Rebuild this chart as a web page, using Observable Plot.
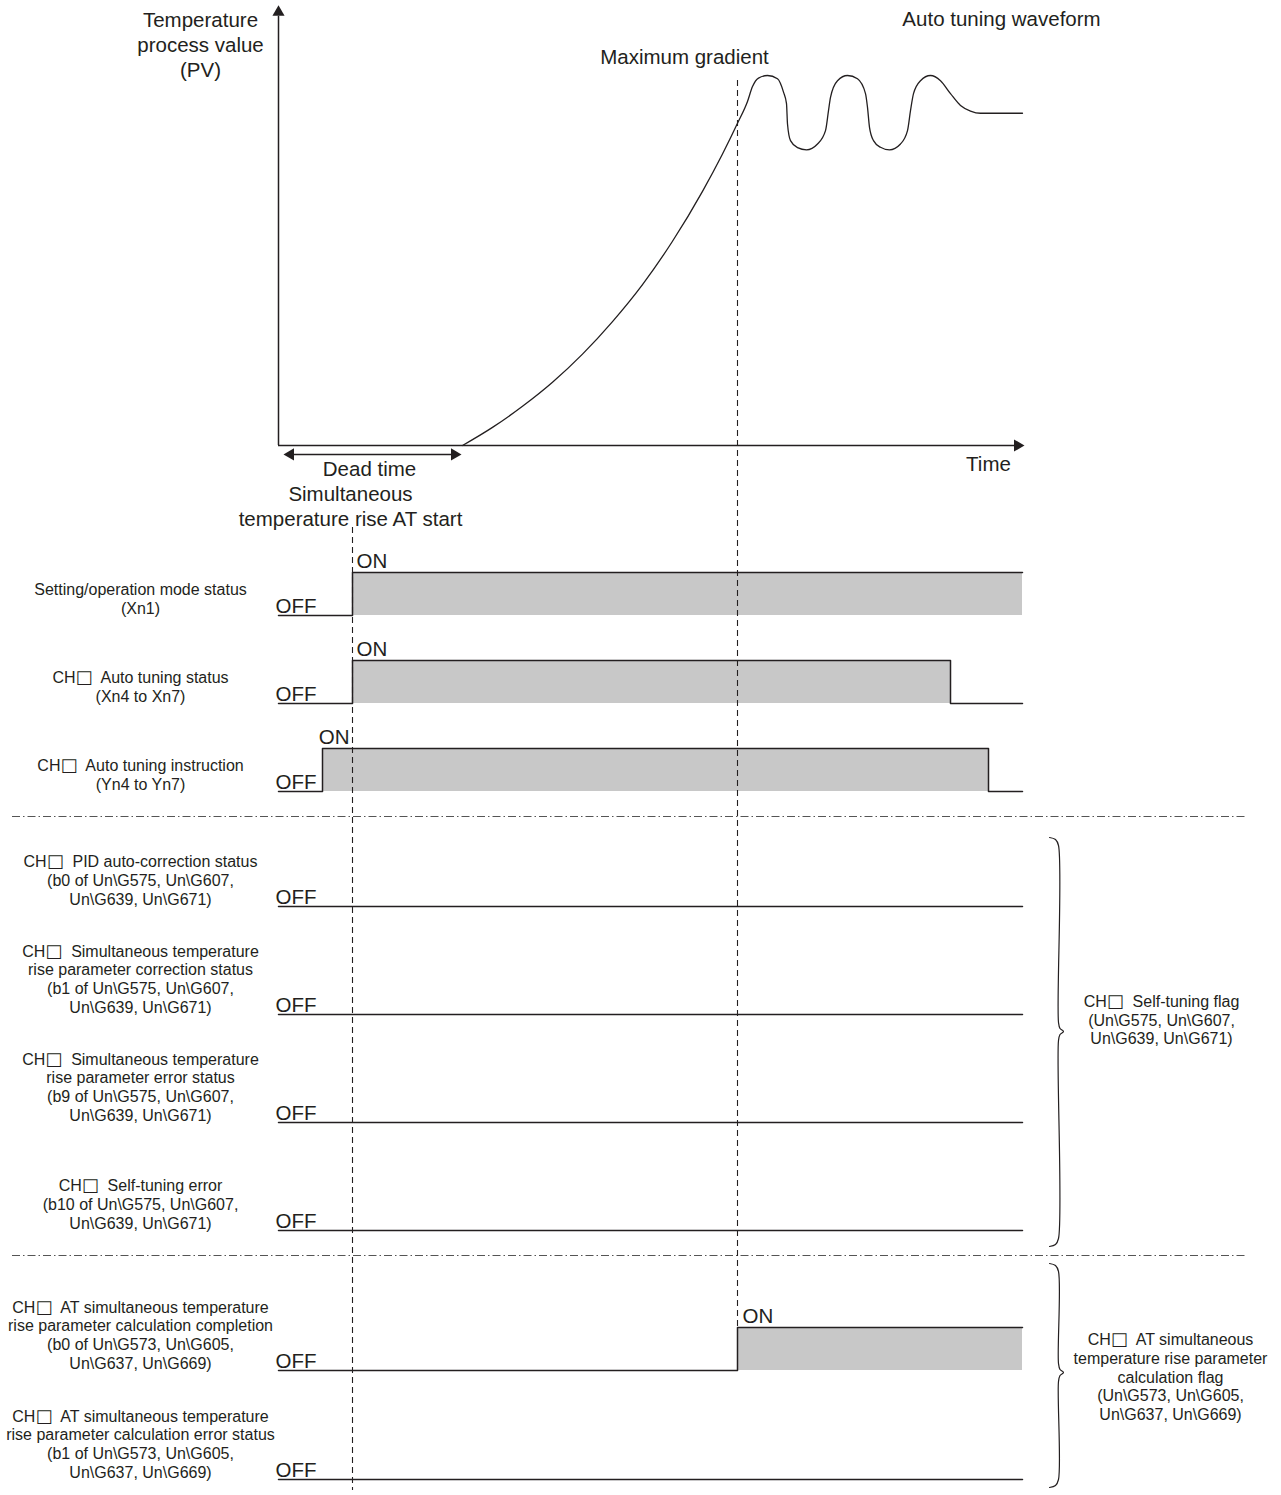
<!DOCTYPE html>
<html>
<head>
<meta charset="utf-8">
<script src="https://cdn.jsdelivr.net/npm/d3@7"></script>
<script src="https://cdn.jsdelivr.net/npm/@observablehq/plot@0.6"></script>
<style>
  body { margin: 0; background: #fff; }
  #wrap { position: relative; width: 1281px; height: 1495px; }
  #wrap svg { position: absolute; left: 0; top: 0; }
</style>
</head>
<body>
<div id="wrap"></div>
<script>
// ================= DATA =================
// time in arbitrary units (time axis origin = 0)
const timeEnd = 744;
const atInstructionOn = 44;
const atStart = 74;
const deadTimeEnd = 184;
const maxGradientTime = 459;

// Temperature process value (PV) waveform, 0 = start level, 100 = first overshoot peak
const pvTime  = [184, 214, 244, 274, 304, 334, 364, 394, 424, 444, 459, 469, 474, 480, 489,
                 499, 505, 508, 509, 512, 519, 528,
                 539, 547, 550, 552, 559, 569, 579, 587, 589, 591, 595, 602, 611,
                 622, 629, 632, 635, 642, 652, 662, 672, 682, 692, 702, 744];
const pvValue = [0, 4.9, 10.6, 17.1, 24.7, 33.5, 43.5, 55.2, 68.7, 78.8, 87.1, 93.0, 97.0, 99.3, 100,
                 99.1, 95.5, 92.4, 86.9, 82.4, 80.5, 79.9,
                 81.5, 85.1, 90.5, 94.1, 98.6, 100, 99.1, 95.1, 91.4, 86, 82.4, 80.6, 79.9,
                 81.5, 85.1, 90.5, 95.1, 98.6, 100, 98.6, 95.1, 91.9, 90.4, 89.8, 89.8];

// Timing signals
const signalLabels = [
  "Setting/operation mode status\n(Xn1)",
  "CH\u25A1\u00A0 Auto tuning status\n(Xn4 to Xn7)",
  "CH\u25A1\u00A0 Auto tuning instruction\n(Yn4 to Yn7)",
  "CH\u25A1\u00A0 PID auto-correction status\n(b0 of Un\\G575, Un\\G607,\nUn\\G639, Un\\G671)",
  "CH\u25A1\u00A0 Simultaneous temperature\nrise parameter correction status\n(b1 of Un\\G575, Un\\G607,\nUn\\G639, Un\\G671)",
  "CH\u25A1\u00A0 Simultaneous temperature\nrise parameter error status\n(b9 of Un\\G575, Un\\G607,\nUn\\G639, Un\\G671)",
  "CH\u25A1\u00A0 Self-tuning error\n(b10 of Un\\G575, Un\\G607,\nUn\\G639, Un\\G671)",
  "CH\u25A1\u00A0 AT simultaneous temperature\nrise parameter calculation completion\n(b0 of Un\\G573, Un\\G605,\nUn\\G637, Un\\G669)",
  "CH\u25A1\u00A0 AT simultaneous temperature\nrise parameter calculation error status\n(b1 of Un\\G573, Un\\G605,\nUn\\G637, Un\\G669)"
];
const signalOn  = [atStart, atStart, atInstructionOn, null, null, null, null, maxGradientTime, null];
const signalOff = [null, 672, 710, null, null, null, null, null, null];

const groupLabels = [
  "CH\u25A1\u00A0 Self-tuning flag\n(Un\\G575, Un\\G607,\nUn\\G639, Un\\G671)",
  "CH\u25A1\u00A0 AT simultaneous\ntemperature rise parameter\ncalculation flag\n(Un\\G573, Un\\G605,\nUn\\G637, Un\\G669)"
];

const titleText = "Auto tuning waveform";
const pvAxisLabel = "Temperature\nprocess value\n(PV)";
const timeAxisLabel = "Time";
const maxGradientLabel = "Maximum gradient";
const deadTimeLabel = "Dead time";
const atStartLabel = "Simultaneous\ntemperature rise AT start";

// ================= LAYOUT =================
const W = 1281, H = 1495;
const font = "'Liberation Sans', Arial, Helvetica, sans-serif";
const ink = "#231f20";
const rowBase = [615, 703, 791, 906, 1014, 1122, 1230, 1370, 1479];
const amp = 43;
const onLabelShift = [4, 4, -4, 0, 0, 0, 0, 5, 0];
const onLabelBefore = [false, false, true, false, false, false, false, false, false];
const separatorY = [816, 1255];
const braceTop = [837, 1263], braceBottom = [1246, 1487], braceTip = [1031, 1372];
const groupLabelX = [1161, 1170], groupLabelY = [1019, 1376];
const px = (p) => p - 278; // pixel column -> time units (1 unit = 1 px)

// ================= TOP: PV WAVEFORM =================
const pvData = pvTime.map((t, i) => ({t, pv: pvValue[i]}));
const big = 20.5;
const txt = {fill: ink, fontFamily: font, fontSize: big, stroke: null};
const head = {x: "t", y: "pv", symbol: "triangle", r: 4.5, fill: ink, stroke: null};

const waveChart = Plot.plot({
  width: W, height: H, margin: 0,
  style: {background: "transparent", fontFamily: font},
  x: {domain: [0, timeEnd], range: [278, 1022], axis: null},
  y: {domain: [0, 100], range: [445, 75], axis: null},
  marks: [
    // axes
    Plot.ruleX([0], {y1: 0, y2: 116, stroke: ink, strokeWidth: 1.5}),
    Plot.dot([{t: 0, pv: 119}], {...head, dy: 7}),
    Plot.ruleY([0], {x1: 0, x2: 736, stroke: ink, strokeWidth: 1.5}),
    Plot.dot([{t: 746, pv: 0}], {...head, rotate: 90, dx: -7}),
    // dead time arrow
    Plot.ruleY([-2.4], {x1: 8, x2: 180, stroke: ink, strokeWidth: 1.5}),
    Plot.dot([{t: 5, pv: -2.4}], {...head, rotate: -90, dx: 7}),
    Plot.dot([{t: deadTimeEnd - 1, pv: -2.4}], {...head, rotate: 90, dx: -7}),
    // PV curve
    Plot.line(pvData, {x: "t", y: "pv", curve: "monotone-x", stroke: ink, strokeWidth: 1.3}),
    // texts
    Plot.text([pvAxisLabel], {x: -78, y: 108.6, lineAnchor: "middle", lineHeight: 1.22, textAnchor: "middle", ...txt}),
    Plot.text([titleText], {x: 723, y: 115.1, lineAnchor: "middle", textAnchor: "middle", ...txt}),
    Plot.text([maxGradientLabel], {x: 406, y: 104.9, lineAnchor: "middle", textAnchor: "middle", ...txt}),
    Plot.text([timeAxisLabel], {x: 710, y: -5.1, lineAnchor: "middle", textAnchor: "middle", ...txt}),
    Plot.text([deadTimeLabel], {x: 91, y: -6.5, lineAnchor: "middle", textAnchor: "middle", ...txt}),
    Plot.text([atStartLabel], {x: atStart - 2, y: -16.1, lineAnchor: "middle", lineHeight: 1.22, textAnchor: "middle", ...txt})
  ]
});

// ================= BOTTOM: TIMING CHART =================
const rows = signalLabels.map((label, i) => ({
  i, label, on: signalOn[i], off: signalOff[i], base: rowBase[i]
}));
const onRows = rows.filter(d => d.on != null);

const steps = [];
for (const r of rows) {
  const hi = r.base - amp;
  steps.push({row: r.i, t: 0, y: r.base});
  if (r.on != null) {
    steps.push({row: r.i, t: r.on, y: r.base});
    steps.push({row: r.i, t: r.on, y: hi});
    if (r.off != null) {
      steps.push({row: r.i, t: r.off, y: hi});
      steps.push({row: r.i, t: r.off, y: r.base});
      steps.push({row: r.i, t: timeEnd, y: r.base});
    } else {
      steps.push({row: r.i, t: timeEnd, y: hi});
    }
  } else {
    steps.push({row: r.i, t: timeEnd, y: r.base});
  }
}

const braces = [];
for (let b = 0; b < 2; ++b) {
  const t0 = braceTop[b], t1 = braceBottom[b], m = braceTip[b];
  [[1049, t0], [1055, t0 + 2], [1058, t0 + 8], [1058, m - 9], [1059.5, m - 3], [1063, m],
   [1059.5, m + 3], [1058, m + 9], [1058, t1 - 8], [1055, t1 - 2], [1049, t1]]
    .forEach(([x, y]) => braces.push({brace: b, t: px(x), y}));
}
const groups = groupLabels.map((label, i) => ({label, t: px(groupLabelX[i]), y: groupLabelY[i]}));

const small = {fill: ink, fontFamily: font, fontSize: 16, stroke: null};
const onLabelY = d => d.base - amp - 4.5;

const timingChart = Plot.plot({
  width: W, height: H, margin: 0,
  style: {background: "transparent", fontFamily: font},
  x: {domain: [0, timeEnd], range: [278, 1022], axis: null},
  y: {domain: [0, H], range: [0, H], axis: null},
  marks: [
    Plot.ruleY(separatorY, {x1: px(12), x2: px(1247), stroke: "#555", strokeWidth: 1, strokeDasharray: "8,3,1.5,3"}),
    Plot.rect(onRows, {x1: "on", x2: d => d.off ?? timeEnd, y1: d => d.base - amp, y2: "base", fill: "#c8c8c8"}),
    Plot.ruleX([atStart], {y1: 527, y2: 1490, stroke: ink, strokeWidth: 1.1, strokeDasharray: "6,4"}),
    Plot.ruleX([maxGradientTime], {y1: 80, y2: rowBase[7] - amp, stroke: ink, strokeWidth: 1.1, strokeDasharray: "6,4"}),
    Plot.line(steps, {x: "t", y: "y", z: "row", stroke: ink, strokeWidth: 1.5}),
    Plot.text(rows, {x: px(140), y: d => d.base - 1.8, text: "label", lineAnchor: "bottom", lineHeight: 1.17, textAnchor: "middle", ...small}),
    Plot.text(rows, {x: -3, y: d => d.base - 2.5, text: () => "OFF", lineAnchor: "bottom", textAnchor: "start", ...txt}),
    Plot.text(onRows.filter(d => !onLabelBefore[d.i]), {x: d => d.on + onLabelShift[d.i], y: onLabelY, text: () => "ON",
      lineAnchor: "bottom", textAnchor: "start", ...txt}),
    Plot.text(onRows.filter(d => onLabelBefore[d.i]), {x: d => d.on + onLabelShift[d.i] + 31, y: onLabelY, text: () => "ON",
      lineAnchor: "bottom", textAnchor: "end", ...txt}),
    Plot.line(braces, {x: "t", y: "y", z: "brace", curve: "catmull-rom", stroke: ink, strokeWidth: 1.2}),
    Plot.text(groups, {x: "t", y: "y", text: "label", lineAnchor: "middle", lineHeight: 1.17, textAnchor: "middle", ...small})
  ]
});

// render the channel placeholder box with a font that draws it at cap height
function styleBoxes(svg) {
  const walker = document.createTreeWalker(svg, NodeFilter.SHOW_TEXT);
  const nodes = [];
  while (walker.nextNode()) if (walker.currentNode.nodeValue.includes("\u25A1")) nodes.push(walker.currentNode);
  for (const n of nodes) {
    const parts = n.nodeValue.split("\u25A1");
    const frag = document.createDocumentFragment();
    parts.forEach((p, i) => {
      if (i > 0) {
        const t = document.createElementNS("http://www.w3.org/2000/svg", "tspan");
        t.setAttribute("font-family", "'DejaVu Sans'");
        t.setAttribute("font-size", "1.12em");
        t.textContent = "\u25A1";
        frag.appendChild(t);
      }
      if (p) frag.appendChild(document.createTextNode(p));
    });
    n.parentNode.replaceChild(frag, n);
  }
}
styleBoxes(timingChart);

const wrap = document.getElementById("wrap");
wrap.appendChild(waveChart);
wrap.appendChild(timingChart);
</script>
</body>
</html>
